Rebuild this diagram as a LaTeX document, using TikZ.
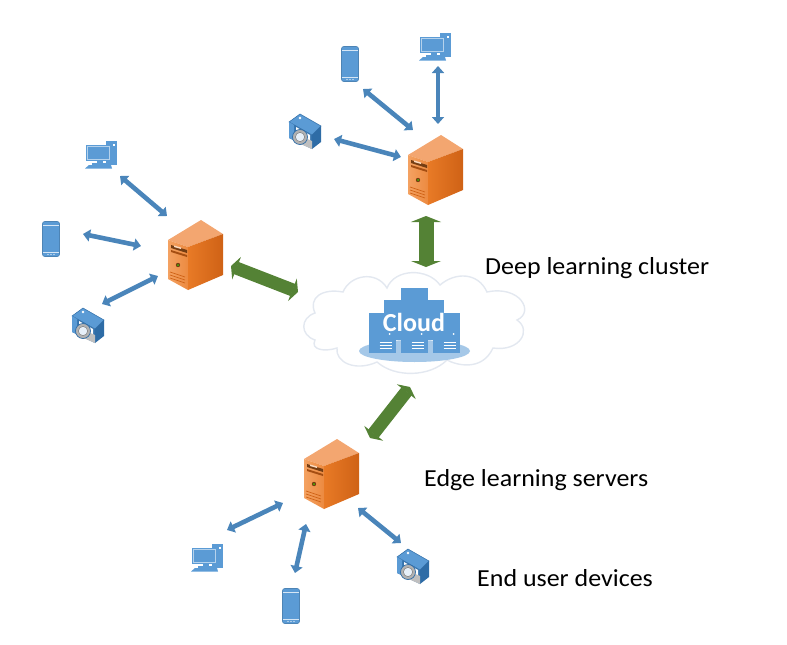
\documentclass[tikz,border=0pt]{standalone}
\usepackage{fontspec}
\setmainfont{Carlito}
\newfontfamily\capfont[FakeStretch=1.06]{Carlito}
\usetikzlibrary{arrows.meta}

\definecolor{iconblue}{HTML}{5B9BD5}
\definecolor{icondark}{HTML}{2E6CA6}
\definecolor{linkblue}{HTML}{4A85BA}
\definecolor{linkgreen}{HTML}{548235}
\definecolor{cloudedge}{HTML}{E3E8F0}
\definecolor{srvtop}{HTML}{F3A670}
\definecolor{srvfront}{HTML}{F4A262}
\definecolor{srvfrontb}{HTML}{EC8A40}
\definecolor{srvside}{HTML}{E87A26}
\definecolor{srvsideb}{HTML}{CF6216}

\tikzset{
  bluelink/.style={draw=linkblue,line width=4.6pt,{Triangle[length=7pt,width=12pt]}-{Triangle[length=7pt,width=12pt]}},
  greenlink/.style={draw=linkgreen,line width=15pt,{Triangle[length=6pt,width=30pt]}-{Triangle[length=6pt,width=30pt]}},
  greenslim/.style={draw=linkgreen,line width=13pt,{Triangle[length=6pt,width=24pt]}-{Triangle[length=6pt,width=24pt]}},
  caption/.style={anchor=west,inner sep=0pt,font=\capfont\fontsize{24.5}{28}\selectfont},
  serverpic/.pic={
    \fill[srvtop] (-27,-15) -- (6,-35) -- (28,-21) -- (-7,-8) -- cycle;
    \shade[left color=srvfront,right color=srvfrontb] (-27,-15) -- (-7,-8) -- (-7,35) -- (-27,24) -- cycle;
    \shade[left color=srvside,right color=srvsideb] (-7,-8) -- (28,-21) -- (28,20) -- (-7,35) -- cycle;
    \fill[black!50!srvside] (-24,-10) -- (-8,-5) -- (-8,-2) -- (-24,-7) -- cycle;
    \fill[white!60!srvfront] (-21,-9.5) -- (-14,-7.5) -- (-14,-6) -- (-21,-8) -- cycle;
    \fill[srvsideb!80!black] (-24,-5) -- (-8,0) -- (-8,2) -- (-24,-3) -- cycle;
    \fill[black!50!srvside] (-17,10) circle (2.2);
    \fill[green!50!olive] (-17,10) circle (1);
    \foreach \v in {0,3,6} {\draw[srvsideb,line width=.7pt] (-25,17+\v) -- (-10,22+\v);}
  },
  phonepic/.pic={
    \fill[iconblue,draw=iconblue!85!black,line width=.6pt,rounded corners=2.2pt] (-8.5,-17.5) rectangle (8.5,17.5);
    \draw[white!75!iconblue,line width=.5pt] (-8,-14) -- (8,-14) (-8,13.5) -- (8,13.5);
    \foreach \u in {-3,0,3} {\fill[white] (\u,15.5) circle (.7);}
  },
  pcpic/.pic={
    \fill[iconblue] (5,-14) rectangle (16,10);
    \fill[white] (12,-11) rectangle (14,-9);
    \fill[iconblue] (-15,-10) rectangle (10,6);
    \draw[white!55!iconblue,line width=.5pt] (-13.5,-8.5) rectangle (8.5,4.5);
    \fill[iconblue] (-4,6) rectangle (2,9);
    \fill[iconblue] (-9,8) rectangle (8,10);
    \fill[iconblue] (-12,10) -- (10,10) -- (11,13.5) -- (-16,13.5) -- cycle;
  },
  camerapic/.pic={
    \fill[iconblue,draw=icondark,line width=.5pt] (-16,-10) -- (-5,-18) -- (16,-6) -- (7,3) -- cycle;
    \fill[icondark] (7,3) -- (16,-6) -- (16,10) -- (7,17) -- cycle;
    \fill[icondark!85!iconblue] (-16,-10) -- (7,3) -- (7,17) -- (-16,6) -- cycle;
    \fill[iconblue] (-16,-10) -- (-11,-7) -- (-11,8) -- (-16,6) -- cycle;
    \fill[white] (-9,-5) -- (5,3) -- (5,9) -- (-9,2) -- cycle;
    \fill[black!25] (-9,2) -- (7,9) -- (7,17) -- (-9,10) -- cycle;
    \fill[black!30,draw=icondark,line width=.7pt] (-5,5) circle (7.5);
    \fill[white!85!iconblue,draw=black!50,line width=.5pt] (-5,5) circle (4.6);
    \fill[white] (-5,-14) circle (1.4);
  },
  rackbox/.pic={
    \fill[iconblue] (-13.5,-20) rectangle (13.5,20);
    \fill[white] (7,1) circle (1);
    \draw[white,line width=.7pt] (-3,9) -- (9,9) (-3,12) -- (9,12) (-3,15) -- (9,15);
  },
}

\begin{document}
\begin{tikzpicture}[x=1pt,y=-1pt]
  \useasboundingbox (0,0) rectangle (787,645);

  \draw[cloudedge,line width=1.4pt,fill=white] (315,340) .. controls (300,335) and (300,318) .. (315,313)
    .. controls (308,298) and (322,288) .. (343,292)
    .. controls (350,275) and (376,270) .. (387,288)
    .. controls (395,268) and (428,268) .. (440,285)
    .. controls (455,272) and (478,272) .. (487,292)
    .. controls (520,285) and (535,312) .. (517,320)
    .. controls (532,330) and (520,352) .. (493,348)
    .. controls (482,372) and (456,365) .. (447,360)
    .. controls (430,377) and (395,378) .. (377,362)
    .. controls (355,372) and (335,362) .. (337,348)
    .. controls (325,352) and (310,350) .. (315,340) -- cycle;
  \fill[iconblue!55!white] (414.5,351) ellipse (55.5 and 11);
  \fill[iconblue] (401,288) rectangle (428,320);
  \fill[iconblue] (384,300) rectangle (412,340);
  \fill[iconblue] (417,300) rectangle (444,340);
  \pic (rackA) at (382.5,333) {rackbox};
  \pic (rackB) at (414.5,333) {rackbox};
  \pic (rackC) at (446.5,333) {rackbox};
  \node[inner sep=0pt,text=white,font=\fontsize{26}{30}\selectfont\bfseries] (cloud) at (414,322) {Cloud};

  \pic (srvT) at (435,170) {serverpic};
  \pic (srvL) at (195,255) {serverpic};
  \pic (srvB) at (331,474) {serverpic};

  \pic (phoneT) at (350,64) {phonepic};
  \pic (phoneL) at (51,239) {phonepic};
  \pic (phoneB) at (291,606) {phonepic};

  \pic (pcT) at (435,47) {pcpic};
  \pic (pcL) at (101,155) {pcpic};
  \pic (pcB) at (207,558) {pcpic};

  \pic (camT) at (305,132) {camerapic};
  \pic (camL) at (88,326) {camerapic};
  \pic (camB) at (413,567) {camerapic};

  \coordinate (tp1) at (363,89);  \coordinate (tp2) at (413,130);
  \coordinate (tc1) at (438,66);  \coordinate (tc2) at (438,124);
  \coordinate (tm1) at (334,139); \coordinate (tm2) at (401,157);
  \coordinate (lc1) at (120,176); \coordinate (lc2) at (167,216);
  \coordinate (lp1) at (83,234);  \coordinate (lp2) at (141,246);
  \coordinate (lm1) at (102,304); \coordinate (lm2) at (158,276);
  \coordinate (bc1) at (227,530); \coordinate (bc2) at (283,503);
  \coordinate (bp1) at (295,573); \coordinate (bp2) at (306,524);
  \coordinate (bm1) at (358,508); \coordinate (bm2) at (401,543);
  \coordinate (gt1) at (426,216); \coordinate (gt2) at (426,267);
  \coordinate (gl1) at (231,266); \coordinate (gl2) at (298,292);
  \coordinate (gb1) at (410,387); \coordinate (gb2) at (370,438);

  \draw[bluelink] (tp1) -- (tp2);
  \draw[bluelink] (tc1) -- (tc2);
  \draw[bluelink] (tm1) -- (tm2);
  \draw[bluelink] (lc1) -- (lc2);
  \draw[bluelink] (lp1) -- (lp2);
  \draw[bluelink] (lm1) -- (lm2);
  \draw[bluelink] (bc1) -- (bc2);
  \draw[bluelink] (bp1) -- (bp2);
  \draw[bluelink] (bm1) -- (bm2);
  \draw[greenlink] (gt1) -- (gt2);
  \draw[greenslim] (gl1) -- (gl2);
  \draw[greenslim] (gb1) -- (gb2);

  \node[caption] (deep) at (485,268) {Deep learning cluster};
  \node[caption] (edge) at (424,480) {Edge learning servers};
  \node[caption] (user) at (477,578) {End user devices};
\end{tikzpicture}
\end{document}
